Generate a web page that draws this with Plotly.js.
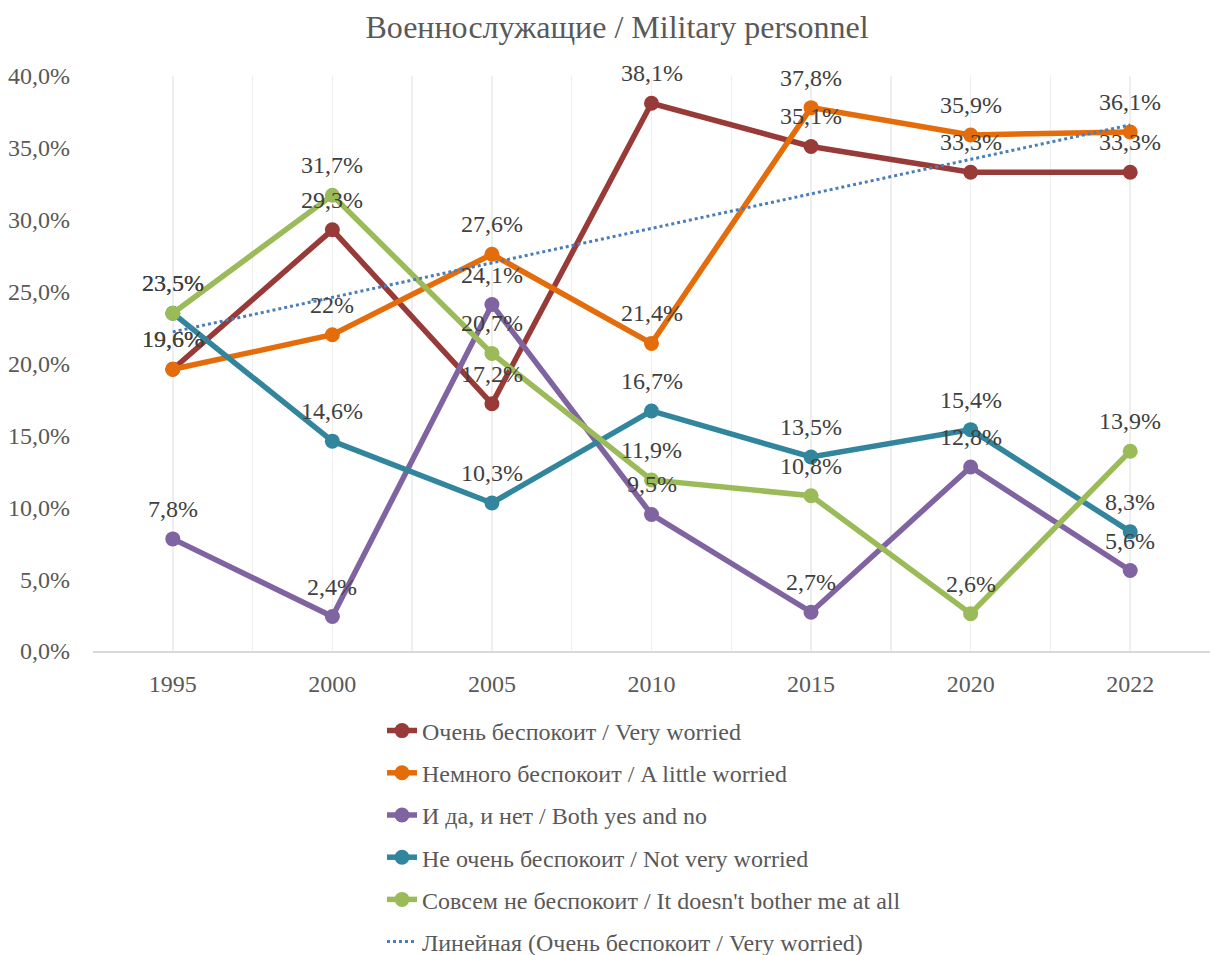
<!DOCTYPE html>
<html>
<head>
<meta charset="utf-8">
<script src="https://cdn.plot.ly/plotly-3.0.1.min.js"></script>
<style>html,body{margin:0;padding:0;background:#fff;}#chart{width:1210px;height:955px;}</style>
</head>
<body>
<div id="chart"></div>
<script>
const years = ['1995', '2000', '2005', '2010', '2015', '2020', '2022'];
const seriesNames = [
  'Очень беспокоит / Very worried',
  'Немного беспокоит / A little worried',
  'И да, и нет / Both yes and no',
  'Не очень беспокоит / Not very worried',
  'Совсем не беспокоит / It doesn\'t bother me at all'
];
const veryWorried    = [19.6, 29.3, 17.2, 38.1, 35.1, 33.3, 33.3];
const littleWorried  = [19.6, 22.0, 27.6, 21.4, 37.8, 35.9, 36.1];
const bothYesNo      = [7.8, 2.4, 24.1, 9.5, 2.7, 12.8, 5.6];
const notVeryWorried = [23.5, 14.6, 10.3, 16.7, 13.5, 15.4, 8.3];
const notAtAll       = [23.5, 31.7, 20.7, 11.9, 10.8, 2.6, 13.9];
const trendName = 'Линейная (Очень беспокоит / Very worried)';
const trendEnds = [22.2, 36.6];
const yTicks = [0, 5, 10, 15, 20, 25, 30, 35, 40];

const colors = ['#983A37', '#E46C0A', '#8064A2', '#31859C', '#9BBB59'];
const allSeries = [veryWorried, littleWorried, bothYesNo, notVeryWorried, notAtAll];
const xIdx = years.map((_, i) => i);
const FONT = 'Liberation Serif';

const traces = allSeries.map((vals, k) => ({
  type: 'scatter', mode: 'lines+markers',
  name: seriesNames[k], legendgroup: 'g' + k,
  x: xIdx, y: vals,
  line: {color: colors[k], width: 5.5},
  marker: {color: colors[k], size: 15},
  hoverinfo: 'skip'
}));
traces.push({
  type: 'scatter', mode: 'lines', name: trendName, legendgroup: 'gt',
  x: [0, years.length - 1], y: trendEnds,
  line: {color: '#4A7EBB', width: 3, dash: 'dot'}, hoverinfo: 'skip'
});

const fmt = v => String(v).replace('.', ',') + '%';
const annotations = [];
allSeries.forEach(vals => vals.forEach((v, i) => {
  annotations.push({
    x: i, y: v, xref: 'x', yref: 'y', text: fmt(v), showarrow: false,
    yshift: 30, xanchor: 'center', yanchor: 'middle',
    font: {family: FONT, size: 24, color: '#404040'}
  });
}));

const tickvals = [], ticktext = [];
years.forEach((y, i) => { tickvals.push(i - 0.5, i); ticktext.push('', y); });
tickvals.push(years.length - 0.5); ticktext.push('');
const yTickText = yTicks.map(v => v.toFixed(1).replace('.', ',') + '%');

const layout = {
  width: 1210, height: 955,
  margin: {l: 93, r: 0, t: 76, b: 304, autoexpand: false},
  paper_bgcolor: '#fff', plot_bgcolor: '#fff',
  font: {family: FONT, size: 24, color: '#595959'},
  title: {text: 'Военнослужащие / Military personnel', x: 617 / 1210, xref: 'container', xanchor: 'center',
          y: 1 - 27 / 955, yref: 'container', yanchor: 'middle',
          font: {family: FONT, size: 32, color: '#595959'}},
  xaxis: {type: 'linear', range: [-0.5, years.length - 0.5], tickvals: tickvals, ticktext: ticktext,
          showgrid: true, gridcolor: '#EEEEEE', gridwidth: 1.5, zeroline: false,
          showline: true, linecolor: '#D9D9D9', linewidth: 1.5, ticks: '', ticklabelstandoff: 11,
          tickfont: {family: FONT, size: 24, color: '#595959'}, fixedrange: true},
  yaxis: {range: [0, 40], tickvals: yTicks, ticktext: yTickText,
          showgrid: false, zeroline: false, showline: false, ticks: '', ticklabelstandoff: 22,
          tickfont: {family: FONT, size: 24, color: '#595959'}, fixedrange: true},
  showlegend: true,
  legend: {orientation: 'v', x: (382 - 93) / 1117, xanchor: 'left', y: -0.1, yanchor: 'top',
           tracegroupgap: 8, font: {family: FONT, size: 24, color: '#595959'},
           bgcolor: 'rgba(0,0,0,0)'},
  annotations: annotations
};

Plotly.newPlot('chart', traces, layout, {displayModeBar: false, staticPlot: true});
</script>
</body>
</html>
